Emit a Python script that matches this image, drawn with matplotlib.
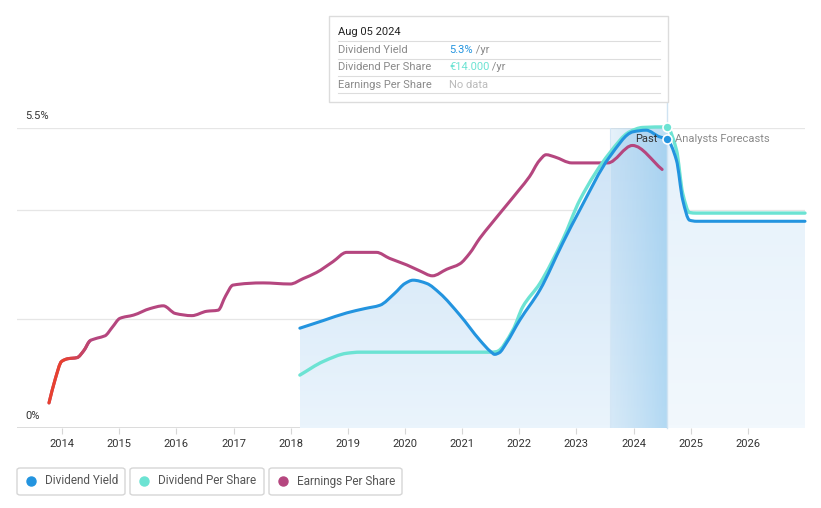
import numpy as np
import matplotlib
matplotlib.use('Agg')
import matplotlib.pyplot as plt
from matplotlib.patches import Rectangle, FancyBboxPatch, PathPatch
from matplotlib.path import Path
from matplotlib.colors import LinearSegmentedColormap

plt.rcParams['font.family'] = ['Roboto', 'DejaVu Sans']

# values (all three series shown on the shared chart scale, 0 - 5.5)
eps_years = [2013.77, 2013.88, 2013.99, 2014.10, 2014.26, 2014.38, 2014.49, 2014.62, 2014.75,
             2014.88, 2015.01, 2015.25, 2015.54, 2015.77, 2015.98, 2016.27, 2016.53, 2016.73,
             2016.86, 2016.99, 2017.52, 2017.99, 2018.22, 2018.45, 2018.74, 2018.98, 2019.50,
             2019.73, 2020.03, 2020.26, 2020.48, 2020.73, 2020.96, 2021.13, 2021.31, 2021.50,
             2021.75, 2022.00, 2022.18, 2022.35, 2022.47, 2022.62, 2022.92, 2023.55, 2023.98,
             2024.50]
eps_vals = [0.46, 0.90, 1.22, 1.27, 1.29, 1.42, 1.60, 1.65, 1.69,
            1.85, 2.01, 2.07, 2.19, 2.24, 2.10, 2.06, 2.14, 2.16,
            2.42, 2.62, 2.66, 2.64, 2.74, 2.85, 3.05, 3.22, 3.22,
            3.11, 2.99, 2.88, 2.79, 2.91, 3.01, 3.20, 3.48, 3.73,
            4.05, 4.37, 4.61, 4.90, 5.01, 4.97, 4.86, 4.86, 5.18,
            4.74]

yield_years = [2018.16, 2018.57, 2018.98, 2019.30, 2019.56, 2019.82, 2020.00, 2020.14, 2020.38,
               2020.61, 2020.96, 2021.31, 2021.50, 2021.57, 2021.65, 2021.77, 2022.01, 2022.36,
               2022.76, 2023.06, 2023.58, 2023.99, 2024.22, 2024.45, 2024.58, 2024.75, 2024.86,
               2024.98, 2025.10, 2027.00]
yield_vals = [1.83, 1.97, 2.11, 2.19, 2.25, 2.47, 2.65, 2.71, 2.65,
              2.47, 2.07, 1.61, 1.40, 1.35, 1.38, 1.55, 1.98, 2.53,
              3.39, 4.00, 4.97, 5.43, 5.46, 5.34, 5.30, 4.91, 4.18,
              3.81, 3.79, 3.79]

dps_years = [2018.16, 2018.57, 2018.98, 2019.21, 2021.50, 2021.60, 2021.89, 2022.06, 2022.36,
             2022.76, 2023.06, 2023.58, 2023.93, 2024.16, 2024.58, 2024.75, 2024.86, 2024.98,
             2025.10, 2027.00]
dps_vals = [0.97, 1.22, 1.37, 1.39, 1.39, 1.40, 1.80, 2.22, 2.65,
            3.45, 4.18, 5.04, 5.43, 5.51, 5.52, 5.10, 4.30, 3.95,
            3.94, 3.94]

year_ticks = list(range(2014, 2027))
now = 2024.58
band_start = 2023.58

BLUE = '#2394df'
CYAN = '#6ce3d3'
MAGENTA = '#b5467f'
RED = '#e8412f'


def smooth_path(xs, ys):
    # monotone cubic bezier through the points (no overshoot on flat parts)
    x = np.asarray(xs, float)
    y = np.asarray(ys, float)
    h = np.diff(x)
    d = np.diff(y) / h
    n = len(x)
    m = np.zeros(n)
    m[0], m[-1] = d[0], d[-1]
    for k in range(1, n - 1):
        if d[k - 1] * d[k] <= 0:
            m[k] = 0
        else:
            w1 = 2 * h[k] + h[k - 1]
            w2 = h[k] + 2 * h[k - 1]
            m[k] = (w1 + w2) / (w1 / d[k - 1] + w2 / d[k])
    verts = [(x[0], y[0])]
    codes = [Path.MOVETO]
    for k in range(n - 1):
        verts += [(x[k] + h[k] / 3, y[k] + m[k] * h[k] / 3),
                  (x[k + 1] - h[k] / 3, y[k + 1] - m[k + 1] * h[k] / 3),
                  (x[k + 1], y[k + 1])]
        codes += [Path.CURVE4] * 3
    return verts, codes


def area_path(xs, ys):
    verts, codes = smooth_path(xs, ys)
    verts = verts + [(xs[-1], 0), (xs[0], 0), (xs[0], 0)]
    codes = codes + [Path.LINETO, Path.LINETO, Path.CLOSEPOLY]
    return Path(verts, codes)


W, H = 821, 508
fig = plt.figure(figsize=(W / 100, H / 100), dpi=100)


def px(x, y):
    return x / W, 1 - y / H


l, b = px(17, 428)
r, t = px(805, 128)
ax = fig.add_axes([l, b, r - l, t - b])
for s in ax.spines.values():
    s.set_visible(False)
ax.axhline(0, color='#d6d6d6', lw=1.2, zorder=1)
for g in [2.0, 4.0, 5.5]:
    ax.axhline(g, color='#e6e6e6', lw=0.9, zorder=0)
ax.set_yticks([])
ax.set_xticks(year_ticks)
ax.set_xticklabels([str(y) for y in year_ticks])
ax.tick_params(axis='x', length=4, color='#d6d6d6', labelsize=8, labelcolor='#333333', pad=4)

# gradient fill under the yield line, past and forecast parts
yy = np.array(yield_years)
yv = np.array(yield_vals)
grad = np.linspace(1, 0, 100).reshape(-1, 1)
past_mask = yy <= now
patch_past = PathPatch(area_path(list(yy[past_mask]), list(yv[past_mask])),
                       facecolor='none', edgecolor='none')
ax.add_patch(patch_past)
cm_past = LinearSegmentedColormap.from_list('p', ['#eaf4fc', '#cde3f6'])
im = ax.imshow(grad, extent=[yield_years[0], now, 0, 5.5], aspect='auto', cmap=cm_past, zorder=1)
im.set_clip_path(patch_past)

fut_x = list(yy[~past_mask])
fut_y = list(yv[~past_mask])
patch_fut = PathPatch(area_path([now] + fut_x, [5.30] + fut_y), facecolor='none', edgecolor='none')
ax.add_patch(patch_fut)
cm_fut = LinearSegmentedColormap.from_list('f', ['#f2f8fd', '#e5f1fb'])
im2 = ax.imshow(grad, extent=[now, 2027.0, 0, 5.5], aspect='auto', cmap=cm_fut, zorder=1)
im2.set_clip_path(patch_fut)

# shaded "last year" band with horizontal gradient
band = np.linspace(0, 1, 100).reshape(1, -1)
cm_band = LinearSegmentedColormap.from_list('b', [(0.62, 0.80, 0.93, 0.25), (0.55, 0.78, 0.93, 0.6)])
ax.imshow(band, extent=[band_start, now, 0, 5.5], aspect='auto', cmap=cm_band, zorder=1.5)
ax.axvline(band_start, color='#d4e6f5', lw=0.8, zorder=1.6)
ax.set_xlim(2013.21, 2027.0)
ax.set_ylim(0, 5.5)

# hover line up to the tooltip
ax.plot([now, now], [0, 5.5 + 26 / 54.55], color='#cfe3f2', lw=1, clip_on=False, zorder=1.7)

# EPS line: red start fading into magenta
ev_, ec_ = smooth_path(eps_years, eps_vals)
eps_path = Path(ev_, ec_)
ax.add_patch(PathPatch(eps_path, facecolor='none', edgecolor=MAGENTA, lw=2.2,
                       capstyle='round', joinstyle='round', zorder=3))
red_rgb = np.array(matplotlib.colors.to_rgb(RED))
mag_rgb = np.array(matplotlib.colors.to_rgb(MAGENTA))
edges = np.linspace(2014.05, 2014.5, 10)
clip_ranges = [(2013.0, edges[0])] + list(zip(edges[:-1], edges[1:]))
for i, (xa, xb) in enumerate(clip_ranges):
    f = i / len(clip_ranges)
    c = red_rgb * (1 - f) + mag_rgb * f
    pp = PathPatch(eps_path, facecolor='none', edgecolor=c, lw=2.2,
                   capstyle='round', joinstyle='round', zorder=3.1)
    ax.add_patch(pp)
    clip = Rectangle((xa, -1), xb - xa, 10, transform=ax.transData, facecolor='none', edgecolor='none')
    pp.set_clip_path(clip)

dv_, dc_ = smooth_path(dps_years, dps_vals)
ax.add_patch(PathPatch(Path(dv_, dc_), facecolor='none', edgecolor=CYAN, lw=2.4,
                       capstyle='round', clip_on=False, zorder=4))
yv_, yc_ = smooth_path(yield_years, yield_vals)
ax.add_patch(PathPatch(Path(yv_, yc_), facecolor='none', edgecolor=BLUE, lw=2.2,
                       capstyle='round', clip_on=False, zorder=5))

ax.plot([now], [5.52], 'o', ms=6.5, color=CYAN, mec='white', mew=1.2, clip_on=False, zorder=6)
ax.plot([now], [5.30], 'o', ms=6.5, color=BLUE, mec='white', mew=1.2, clip_on=False, zorder=6)

ax.text(now - 0.16, 5.30, 'Past', ha='right', va='center', fontsize=8, color='#333333', zorder=7)
ax.text(now + 0.14, 5.30, 'Analysts Forecasts', ha='left', va='center', fontsize=8,
        color='#8a8a8a', zorder=7)

# y labels
fig.text(*px(25, 116), '5.5%', fontsize=8, color='#333333', va='center', ha='left')
fig.text(*px(25, 416), '0%', fontsize=8, color='#333333', va='center', ha='left')

# tooltip
x0, y0 = px(329, 102)
x1, y1 = px(668, 16)
fig.patches.append(Rectangle((x0, y0), x1 - x0, y1 - y0, transform=fig.transFigure,
                             facecolor='white', edgecolor='#dcdcdc', lw=1, zorder=10))
fig.text(*px(338, 32), 'Aug 05 2024', fontsize=8, color='#222222', va='center', zorder=11)
rows = [('Dividend Yield', '5.3%', BLUE, ' /yr'),
        ('Dividend Per Share', '€14.000', CYAN, ' /yr'),
        ('Earnings Per Share', 'No data', '#bbbbbb', '')]
for i, (lab, val, c, suf) in enumerate(rows):
    yrow = 50 + i * 17.5
    fig.lines.append(plt.Line2D([338 / W, 660 / W], [1 - (yrow - 9) / H] * 2,
                                transform=fig.transFigure, color='#dddddd', lw=0.8, zorder=11))
    fig.text(*px(338, yrow), lab, fontsize=8, color='#8a8a8a', va='center', zorder=11)
    tv = fig.text(*px(449, yrow), val, fontsize=8, color=c, va='center', zorder=11)
    if suf:
        fig.canvas.draw()
        bb = tv.get_window_extent()
        fig.text(bb.x1 / W, 1 - yrow / H, suf, fontsize=8, color='#8a8a8a', va='center', zorder=11)
fig.lines.append(plt.Line2D([338 / W, 660 / W], [1 - 93 / H] * 2,
                            transform=fig.transFigure, color='#dddddd', lw=0.8, zorder=11))

# legend boxes
legend_items = [('Dividend Yield', BLUE, 17, 125),
                ('Dividend Per Share', CYAN, 130, 264),
                ('Earnings Per Share', MAGENTA, 269, 402)]
for lab, c, xa, xb in legend_items:
    bx0, by0 = px(xa, 495)
    bx1, by1 = px(xb, 468)
    fig.patches.append(FancyBboxPatch((bx0, by0), bx1 - bx0, by1 - by0,
                                      boxstyle='round,pad=0,rounding_size=0.004',
                                      transform=fig.transFigure, facecolor='white',
                                      edgecolor='#d6d6d6', lw=1))
    fig.lines.append(plt.Line2D([(xa + 14) / W], [1 - 481 / H], marker='o', ms=6.5, color=c,
                                transform=fig.transFigure))
    fig.text(*px(xa + 28, 481), lab, fontsize=8.5, color='#555555', va='center')

fig.savefig('out.png', dpi=100)
